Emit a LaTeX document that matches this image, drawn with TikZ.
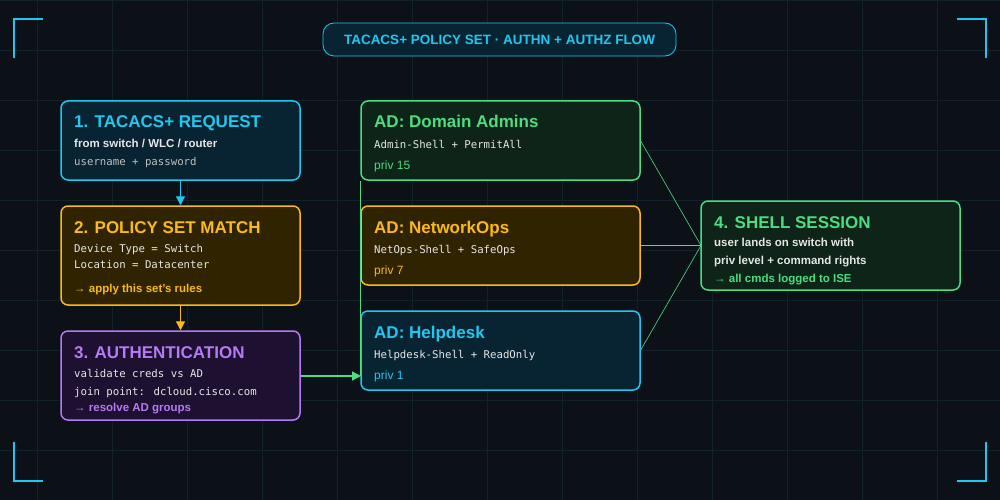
\documentclass[tikz,border=0pt]{standalone}
\usepackage{fontspec}
\setmainfont{Liberation Sans}
\newfontfamily\mono{DejaVu Sans Mono}
\usetikzlibrary{arrows.meta}
\definecolor{bg}{HTML}{0C1118}
\definecolor{gridc}{HTML}{132129}
\definecolor{cy}{HTML}{1FC8F0}
\definecolor{gr}{HTML}{4ADE80}
\definecolor{og}{HTML}{FBBA1A}
\definecolor{pu}{HTML}{B57AF5}
\definecolor{cyf}{HTML}{082433}
\definecolor{grf}{HTML}{0E2418}
\definecolor{ogf}{HTML}{302300}
\definecolor{puf}{HTML}{1E1030}
\definecolor{txt}{HTML}{E6E6E6}
\begin{document}
\begin{tikzpicture}[x=1pt,y=-1pt,
 box/.style={draw=#1,line width=1.5pt,rounded corners=7pt},
 tt/.style={anchor=base west,font=\bfseries\fontsize{17}{19}\selectfont,inner sep=0},
 sub/.style={anchor=base west,font=\bfseries\fontsize{11.5}{13}\selectfont,text=txt,inner sep=0},
 pv/.style={anchor=base west,font=\fontsize{12}{14}\selectfont,inner sep=0},
 mo/.style={anchor=base west,font=\mono\fontsize{10.7}{12}\selectfont,text=txt,inner sep=0},
 br/.style={cy,line width=1.5pt},
 ln/.style={gr,line width=0.6pt},
 arr/.style={line width=1.3pt,-{Triangle[length=9pt,width=9pt]}}]
\fill[bg] (0,0) rectangle (1000,500);
\useasboundingbox (0,0) rectangle (1000,500);
\foreach \x in {37,112,...,1000} \draw[gridc,line width=0.6pt] (\x,0) -- (\x,500);
\foreach \y in {0,50,...,500} \draw[gridc,line width=0.6pt] (0,\y) -- (1000,\y);
% brackets
\draw[br] (43,19) -- (14,19) -- (14,58);
\draw[br] (957,19) -- (986,19) -- (986,58);
\draw[br] (43,481) -- (14,481) -- (14,442);
\draw[br] (957,481) -- (986,481) -- (986,442);
% title
\node[draw=cy,fill=cyf,line width=0.8pt,rounded corners=11pt,minimum width=353pt,minimum height=33pt,inner sep=0,text=cy,font=\bfseries\fontsize{13.5}{15}\selectfont] (title) at (499.5,39.5) {TACACS+ POLICY SET · AUTHN + AUTHZ FLOW};
% boxes
\node[box=cy,fill=cyf,minimum width=239pt,minimum height=79pt,inner sep=0] (b1) at (180.5,140.5) {};
\node[tt,text=cy] at (74,128) {1. TACACS+ REQUEST};
\node[sub] at (74,147) {from switch / WLC / router};
\node[mo,text=lightgray] at (74,165) {username + password};
\node[box=og,fill=ogf,minimum width=239pt,minimum height=99pt,inner sep=0] (b2) at (180.5,255.5) {};
\node[tt,text=og] at (74,233) {2. POLICY SET MATCH};
\node[mo] at (74,252) {Device Type = Switch};
\node[mo] at (74,268) {Location = Datacenter};
\node[sub,text=og] at (74,292) {→ apply this set's rules};
\node[box=pu,fill=puf,minimum width=239pt,minimum height=89pt,inner sep=0] (b3) at (180.5,375.5) {};
\node[tt,text=pu] at (74,358) {3. AUTHENTICATION};
\node[mo] at (74,377) {validate creds vs AD};
\node[mo] at (74,395) {join point: dcloud.cisco.com};
\node[sub,text=pu] at (74,411) {→ resolve AD groups};
\node[box=gr,fill=grf,minimum width=279pt,minimum height=79pt,inner sep=0] (da) at (500.5,140.5) {};
\node[tt,text=gr] at (374,128) {AD: Domain Admins};
\node[mo] at (374,148) {Admin-Shell + PermitAll};
\node[pv,text=gr] at (374,169) {priv 15};
\node[box=og,fill=ogf,minimum width=279pt,minimum height=79pt,inner sep=0] (no) at (500.5,245.5) {};
\node[tt,text=og] at (374,233) {AD: NetworkOps};
\node[mo] at (374,253) {NetOps-Shell + SafeOps};
\node[pv,text=og] at (374,274) {priv 7};
\node[box=cy,fill=cyf,minimum width=279pt,minimum height=79pt,inner sep=0] (hd) at (500.5,350.5) {};
\node[tt,text=cy] at (374,338) {AD: Helpdesk};
\node[mo] at (374,358) {Helpdesk-Shell + ReadOnly};
\node[pv,text=cy] at (374,379) {priv 1};
\node[box=gr,fill=grf,minimum width=259pt,minimum height=89pt,inner sep=0] (b4) at (830.5,245.5) {};
\node[tt,text=gr] at (714,228) {4. SHELL SESSION};
\node[sub] at (714,246) {user lands on switch with};
\node[sub] at (714,264) {priv level + command rights};
\node[sub,text=gr] at (714,282) {→ all cmds logged to ISE};
% connectors
\draw[arr,cy] (b1.south) -- (b2.north);
\draw[arr,og] (b2.south) -- (b3.north);
\coordinate (j) at (361,376);
\draw[arr,gr] (b3.east |- j) -- (j);
\draw[ln] (hd.west |- j) -- (da.south west);
\coordinate (m) at (701,245.5);
\draw[ln] (da.east |- 0,141) -- (m);
\draw[ln] (no.east) -- (m);
\draw[ln] (hd.east |- 0,350) -- (m);
\end{tikzpicture}
\end{document}
